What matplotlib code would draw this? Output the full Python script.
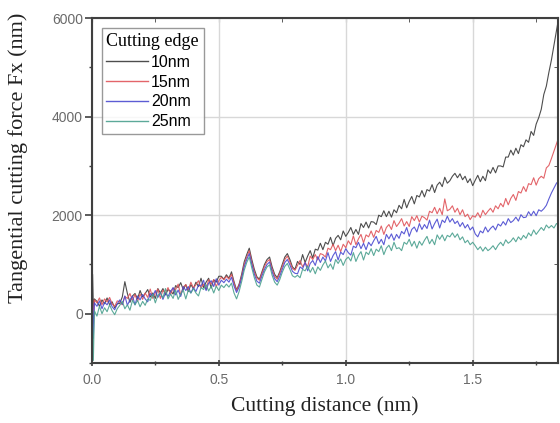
import numpy as np
import matplotlib
matplotlib.use("Agg")
import matplotlib.pyplot as plt
from matplotlib.ticker import MultipleLocator

# ---- data ----
dist_start = [0.0, 0.003, 0.006]
dist_grid = np.round(np.arange(0.01, 1.8401, 0.01), 2).tolist()
distance = np.array(dist_start + dist_grid)

labels = ["10nm", "15nm", "20nm", "25nm"]

force_10 = [0, 800, 100,
    300, 250, 150, 280, 200, 320, 180, 240, 120, 200,
    210, 340, 650, 410, 230, 360, 410, 300, 470, 340,
    410, 490, 340, 420, 310, 510, 420, 510, 380, 490,
    460, 400, 570, 530, 630, 490, 590, 450, 590, 510,
    640, 550, 720, 530, 640, 720, 520, 690, 640, 760,
    760, 700, 790, 720, 850, 650, 480, 600, 800, 1050,
    1200, 1330, 1100, 900, 750, 700, 850, 1000, 1100, 1150,
    950, 800, 730, 850, 1000, 1150, 1220, 1100, 950, 900,
    1060, 1000, 1200, 1040, 1170, 1280, 1130, 1310, 1290, 1430,
    1300, 1450, 1410, 1550, 1380, 1530, 1590, 1500, 1680, 1570,
    1650, 1750, 1610, 1710, 1610, 1830, 1750, 1860, 1740, 1870,
    1860, 1810, 2000, 1970, 2090, 1970, 2080, 1960, 2110, 2050,
    2200, 2130, 2320, 2150, 2280, 2380, 2230, 2400, 2370, 2500,
    2370, 2520, 2490, 2620, 2460, 2610, 2670, 2580, 2770, 2650,
    2700, 2790, 2850, 2760, 2840, 2720, 2790, 2660, 2740, 2600,
    2710, 2810, 2680, 2790, 2700, 2920, 2850, 2970, 2860, 3000,
    3000, 2980, 3180, 3180, 3320, 3220, 3360, 3250, 3430, 3390,
    3530, 3480, 3700, 3620, 3850, 3980, 4150, 4450, 4620, 4900,
    5150, 5450, 5750, 6050]

force_15 = [0, 300, -200,
    280, 220, 320, 180, 300, 240, 330, 200, 150, 260,
    240, 180, 350, 310, 410, 270, 390, 250, 400, 290,
    420, 330, 500, 310, 420, 500, 310, 480, 420, 530,
    390, 520, 490, 600, 380, 540, 590, 480, 640, 520,
    590, 670, 520, 600, 490, 690, 600, 690, 550, 670,
    740, 690, 760, 700, 800, 620, 470, 580, 760, 1000,
    1150, 1280, 1050, 850, 720, 680, 820, 960, 1060, 1100,
    900, 760, 700, 820, 960, 1100, 1170, 1050, 920, 880,
    980, 1080, 950, 1040, 950, 1170, 1100, 1200, 1090, 1220,
    1200, 1150, 1330, 1300, 1410, 1280, 1390, 1260, 1410, 1340,
    1480, 1400, 1580, 1400, 1520, 1610, 1440, 1600, 1560, 1680,
    1550, 1690, 1650, 1780, 1610, 1750, 1810, 1710, 1890, 1770,
    1840, 1930, 1780, 1870, 1770, 1970, 1890, 1990, 1860, 1980,
    1950, 1900, 2080, 2050, 2160, 2030, 2140, 2010, 2330, 2090,
    2120, 2190, 2060, 2140, 2010, 2110, 1970, 2020, 1910, 1990,
    1960, 2050, 1950, 2100, 2010, 2080, 2140, 2060, 2190, 2130,
    2240, 2170, 2340, 2210, 2340, 2420, 2300, 2480, 2450, 2580,
    2480, 2640, 2620, 2760, 2610, 2740, 2790, 2750, 2960, 3010,
    3150, 3300, 3450, 3600]

force_20 = [0, 200, -500,
    220, 150, 260, 100, 230, 180, 280, 140, 80, 200,
    280, 190, 360, 170, 280, 360, 180, 360, 280, 390,
    300, 240, 410, 360, 470, 330, 430, 290, 420, 350,
    450, 530, 380, 480, 350, 550, 470, 550, 420, 530,
    450, 580, 560, 680, 470, 620, 670, 550, 710, 580,
    680, 630, 700, 640, 740, 560, 430, 540, 720, 950,
    1100, 1220, 1000, 800, 660, 620, 770, 900, 1000, 1050,
    850, 710, 650, 760, 900, 1040, 1100, 990, 860, 820,
    810, 950, 910, 1040, 870, 1020, 1080, 980, 1160, 1040,
    1150, 1070, 1240, 1060, 1180, 1260, 1090, 1250, 1200, 1320,
    1240, 1190, 1370, 1340, 1450, 1320, 1430, 1300, 1450, 1380,
    1480, 1570, 1420, 1510, 1400, 1610, 1520, 1620, 1490, 1610,
    1530, 1670, 1620, 1750, 1570, 1710, 1760, 1660, 1830, 1710,
    1810, 1730, 1900, 1720, 1830, 1920, 1740, 1900, 1850, 1980,
    1860, 1930, 1830, 1880, 1770, 1850, 1740, 1810, 1700, 1760,
    1620, 1560, 1680, 1640, 1760, 1660, 1730, 1780, 1700, 1820,
    1780, 1870, 1800, 1930, 1850, 1890, 1960, 1880, 2010, 1950,
    1960, 2070, 1990, 2080, 1990, 2110, 2080, 2130, 2200, 2330,
    2450, 2550, 2650, 2700]

force_25 = [0, -300, -950,
    60, -50, 150, 0, 120, 40, 180, 60, -20, 100,
    170, 250, 100, 180, 70, 270, 180, 270, 140, 250,
    170, 300, 270, 400, 220, 370, 420, 320, 510, 300,
    400, 310, 480, 290, 400, 480, 300, 480, 420, 510,
    420, 360, 530, 490, 590, 460, 560, 420, 560, 470,
    580, 530, 600, 540, 620, 420, 300, 450, 650, 880,
    1040, 1150, 930, 730, 580, 540, 700, 850, 950, 990,
    780, 640, 580, 690, 840, 960, 1020, 900, 770, 740,
    780, 730, 900, 870, 970, 840, 940, 810, 950, 880,
    990, 1070, 930, 1010, 900, 1100, 1020, 1110, 980, 1100,
    1150, 1070, 1240, 1060, 1180, 1260, 1090, 1250, 1200, 1320,
    1180, 1310, 1260, 1380, 1200, 1330, 1390, 1280, 1450, 1320,
    1340, 1280, 1450, 1410, 1510, 1370, 1470, 1330, 1470, 1390,
    1490, 1570, 1420, 1510, 1400, 1600, 1510, 1600, 1480, 1590,
    1560, 1640, 1550, 1620, 1500, 1560, 1440, 1490, 1400, 1450,
    1380, 1300, 1360, 1270, 1350, 1280, 1320, 1380, 1300, 1390,
    1450, 1380, 1500, 1430, 1470, 1540, 1460, 1560, 1500, 1590,
    1530, 1640, 1580, 1700, 1610, 1680, 1750, 1690, 1800, 1740,
    1790, 1740, 1830, 1800]

series = [force_10, force_15, force_20, force_25]
colors = ["#3a3a3a", "#e0545a", "#4a4ad0", "#4aa08e"]

x_ticks = [0.0, 0.5, 1.0, 1.5]
x_tick_labels = ["0.0", "0.5", "1.0", "1.5"]
y_ticks = [0, 2000, 4000, 6000]
y_tick_labels = ["0", "2000", "4000", "6000"]

# ---- figure ----
fig = plt.figure(figsize=(5.6, 4.23), dpi=100)
ax = fig.add_axes([0.164, 0.142, 0.832, 0.815])

for vals, col, lab in zip(series, colors, labels):
    ax.plot(distance, vals, color=col, lw=0.8, label=lab, alpha=0.9)

ax.set_xlim(0, 1.835)
ax.set_ylim(-1000, 6000)
ax.set_xticks(x_ticks)
ax.set_xticklabels(x_tick_labels)
ax.set_yticks(y_ticks)
ax.set_yticklabels(y_tick_labels)
ax.xaxis.set_minor_locator(MultipleLocator(0.25))
ax.yaxis.set_minor_locator(MultipleLocator(1000))

ax.grid(True, which="major", color="#d8d8d8", lw=1.0)
ax.set_axisbelow(True)

for s in ax.spines.values():
    s.set_color("#404040")
    s.set_linewidth(1.5)

ax.tick_params(which="both", color="#404040", labelsize=10, labelcolor="#6a6a6a",
               top=False, right=False)
ax.tick_params(axis="x", which="major", direction="inout", length=4, width=1.2, pad=5)
ax.tick_params(axis="x", which="minor", direction="inout", length=3, width=1.0)
ax.tick_params(axis="y", which="major", direction="out", length=5, width=1.2, pad=1.5)
ax.tick_params(axis="y", which="minor", direction="out", length=2.5, width=1.0)
for lbl in ax.get_xticklabels() + ax.get_yticklabels():
    lbl.set_fontfamily("Liberation Sans")

# inward ticks on top/right via secondary axes
top = ax.secondary_xaxis("top")
top.set_xticks(x_ticks)
top.xaxis.set_minor_locator(MultipleLocator(0.25))
top.tick_params(which="both", direction="in", color="#404040", labeltop=False, length=3)
top.spines["top"].set_visible(False)
right = ax.secondary_yaxis("right")
right.set_yticks(y_ticks)
right.yaxis.set_minor_locator(MultipleLocator(1000))
right.tick_params(which="both", direction="in", color="#404040", labelright=False, length=3)
right.spines["right"].set_visible(False)

ax.set_xlabel("Cutting distance (nm)", family="Liberation Serif", fontsize=15.5,
              color="#222222")
ax.xaxis.set_label_coords(0.5, -0.098)
ax.set_ylabel("Tangential cutting force Fx (nm)", family="Liberation Serif",
              fontsize=16, color="#222222")
ax.yaxis.set_label_coords(-0.137, 0.594)

leg = ax.legend(loc="upper left", bbox_to_anchor=(0.021, 0.971), title="Cutting edge",
                prop={"family": "Liberation Sans", "size": 11.5},
                title_fontproperties={"family": "Liberation Serif", "size": 13},
                frameon=True, fancybox=False, handlelength=2.6, handletextpad=0.2,
                labelspacing=0.3, borderpad=0.3, borderaxespad=0.0)
leg.get_frame().set_edgecolor("#808080")
leg.get_frame().set_linewidth(1.0)
leg._legend_box.align = "left"
for line in leg.get_lines():
    line.set_linewidth(1.0)

fig.savefig("out.png", dpi=100, facecolor="white")
